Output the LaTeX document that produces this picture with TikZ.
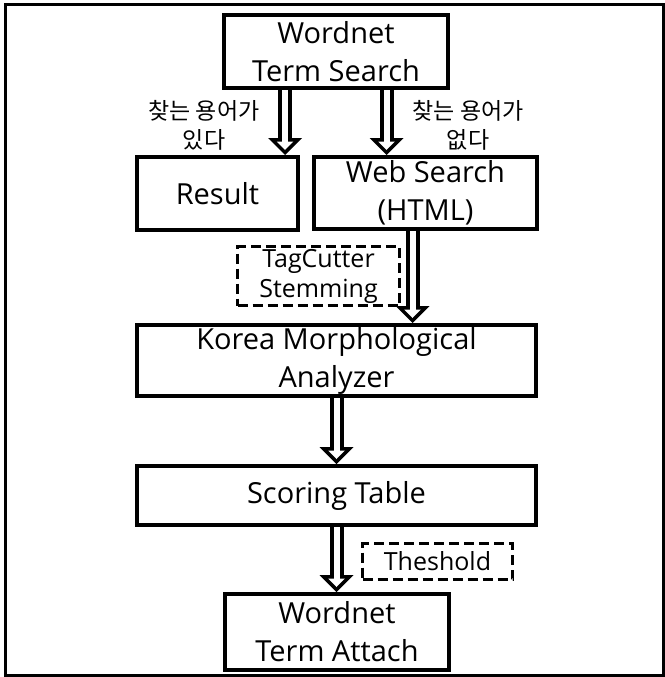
\documentclass[tikz,border=0pt]{standalone}
\usepackage{fontspec}
\setmainfont{Open Sans}
\newfontfamily\korfont{Noto Sans CJK KR}
\usetikzlibrary{arrows.meta}
\tikzset{
  box/.style={draw, line width=4pt, inner sep=0pt, align=center, font=\fontsize{29}{38}\selectfont},
  dbox/.style={draw, line width=3.5pt, dash pattern=on 10pt off 5pt, inner sep=0pt, align=center, font=\fontsize{25}{30}\selectfont},
  lbl/.style={align=center, font=\korfont\fontsize{23}{29}\selectfont},
  flow/.style={line width=14pt, -{Triangle[length=17pt, width=34pt, line width=0pt]},
    postaction={draw=white, line width=6pt, shorten >=5pt, -{Triangle[length=8.5pt, width=16.5pt, line width=0pt]}}}
}

\begin{document}
\begin{tikzpicture}[x=1pt, y=-1pt]
\useasboundingbox (0,0) rectangle (664,677);
\draw[line width=3pt] (5.5,4.5) rectangle (663.5,675.5);

% boxes
\node[box, minimum width=224pt, minimum height=73pt] (wnsearch) at (336,51.5) {Wordnet\\Term Search};
\node[box, minimum width=161pt, minimum height=73pt] (result) at (217.5,193.5) {Result};
\node[box, minimum width=223pt, minimum height=72pt] (websearch) at (425.5,193) {Web Search\\(HTML)};
\node[dbox, minimum width=162pt, minimum height=59pt] (tagcutter) at (318.5,276) {TagCutter\\Stemming};
\node[box, minimum width=399pt, minimum height=71pt] (korma) at (336.5,360.5) {Korea Morphological\\Analyzer};
\node[box, minimum width=399pt, minimum height=59pt] (scoring) at (336.5,495.5) {Scoring Table};
\node[dbox, minimum width=150pt, minimum height=36pt] (threshold) at (437.5,561.5) {Theshold};
\node[box, minimum width=224pt, minimum height=76pt] (wnattach) at (337,632) {Wordnet\\Term Attach};

% branch labels
\node[lbl] (found) at (204,125) {찾는 용어가\\있다};
\node[lbl] (notfound) at (468,125) {찾는 용어가\\없다};

% arrows
\coordinate (a1) at ([xshift=-51pt]wnsearch.south);
\coordinate (a2) at ([xshift=50.5pt]wnsearch.south);
\coordinate (a3) at ([xshift=-13pt]websearch.south);
\draw[flow] (a1) -- (a1 |- result.north);
\draw[flow] (a2) -- (a2 |- websearch.north);
\draw[flow] (a3) -- (a3 |- korma.north);
\draw[flow] (korma.south) -- (korma.south |- scoring.north);
\draw[flow] (scoring.south) -- (scoring.south |- wnattach.north);
\end{tikzpicture}
\end{document}
